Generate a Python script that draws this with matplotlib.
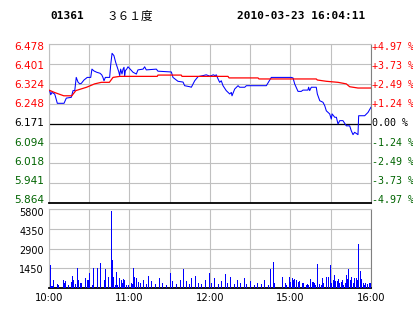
import matplotlib
matplotlib.use("Agg")
import matplotlib.pyplot as plt
from matplotlib.transforms import ScaledTranslation

# Intraday quote 01361, 2010-03-23 (HK session 10:00-12:30, 14:30-16:00)
# x axis = trading minutes since 10:00 (0..240)
PREV_CLOSE = 6.171
PRICE_TICKS = [6.478, 6.401, 6.324, 6.248, 6.171, 6.094, 6.018, 5.941, 5.864]
PCT_LABELS = ["+4.97 %", "+3.73 %", "+2.49 %", "+1.24 %", "0.00 %",
              "-1.24 %", "-2.49 %", "-3.73 %", "-4.97 %"]
VOL_TICKS = [5800, 4350, 2900, 1450]
GRID_MINUTES = [0, 30, 60, 90, 120, 150, 180, 210, 240]
TIME_LABELS = ["10:00", "", "11:00", "", "12:00", "", "15:00", "", "16:00"]

# last price
price_min = [0.5, 1.3, 2.2, 4.2, 4.7, 6.2, 11.2, 12.9, 16.6, 17.9,
             19.2, 20.3, 21.6, 22.9, 24.1, 26.1, 28.5, 31.1, 32.0, 33.5,
             35.5, 38.0, 39.3, 40.2, 41.0, 42.0, 45.2, 46.0, 47.0, 48.4,
             49.7, 50.9, 52.0, 52.7, 53.4, 54.4, 55.2, 55.9, 56.4, 56.9,
             57.9, 58.9, 62.6, 65.1, 66.3, 70.1, 71.3, 72.5, 80.0, 81.2,
             91.2, 92.4, 96.1, 99.9, 101.1, 104.9, 106.1, 108.6, 111.1, 114.8,
             117.2, 119.8, 121.0, 122.5, 123.7, 124.7, 126.0, 127.2, 128.4, 129.7,
             132.1, 134.7, 135.9, 136.4, 138.4, 140.9, 142.1, 145.9, 147.1, 162.0,
             165.7, 180.6, 181.9, 183.1, 185.6, 188.0, 189.3, 193.0, 193.5, 194.3,
             195.5, 199.2, 200.0, 201.8, 204.2, 205.5, 206.7, 209.2, 210.4, 211.0,
             213.0, 214.2, 215.4, 216.7, 219.1, 221.6, 224.1, 225.3, 226.6, 227.8,
             230.3, 230.8, 235.3, 237.8, 240.0]
price = [6.298, 6.282, 6.291, 6.285, 6.277, 6.249, 6.249, 6.269, 6.272, 6.298,
         6.298, 6.349, 6.331, 6.324, 6.326, 6.339, 6.349, 6.349, 6.381, 6.374,
         6.369, 6.365, 6.359, 6.349, 6.336, 6.349, 6.349, 6.398, 6.442, 6.433,
         6.407, 6.388, 6.371, 6.356, 6.381, 6.362, 6.381, 6.388, 6.353, 6.375,
         6.381, 6.390, 6.369, 6.362, 6.378, 6.381, 6.390, 6.378, 6.381, 6.373,
         6.370, 6.349, 6.334, 6.331, 6.317, 6.313, 6.311, 6.336, 6.352, 6.356,
         6.359, 6.354, 6.356, 6.359, 6.356, 6.359, 6.343, 6.330, 6.336, 6.317,
         6.298, 6.285, 6.291, 6.278, 6.304, 6.317, 6.311, 6.311, 6.317, 6.317,
         6.349, 6.349, 6.347, 6.324, 6.295, 6.295, 6.300, 6.300, 6.311, 6.298,
         6.311, 6.311, 6.285, 6.259, 6.253, 6.240, 6.220, 6.208, 6.188, 6.208,
         6.195, 6.195, 6.169, 6.182, 6.182, 6.162, 6.162, 6.143, 6.128, 6.137,
         6.128, 6.201, 6.201, 6.214, 6.234]

# average price
avg_min = [0, 4, 11, 17, 20, 28, 34, 39, 45, 47.7,
           52.7, 80.7, 81.2, 98.6, 99.1, 133.4, 134.2, 155.8, 156.5, 199.2,
           200.0, 206.7, 215.4, 221.6, 224.1, 230.3, 240]
avg = [6.300, 6.291, 6.278, 6.278, 6.298, 6.311, 6.324, 6.330, 6.330, 6.349,
       6.353, 6.353, 6.358, 6.358, 6.353, 6.353, 6.347, 6.347, 6.343, 6.343,
       6.339, 6.334, 6.330, 6.324, 6.313, 6.308, 6.308]

# volume bars
vol_min = [1, 1.5, 2.2, 3.2, 5.7, 6.5, 10.7, 11.4, 12.2, 13.9,
           16.4, 17.1, 17.9, 19.6, 20.6, 21.4, 23.1, 23.9, 26.8, 28.5,
           29.3, 30.0, 31.8, 32.6, 35.5, 38.0, 41.2, 42.0, 44.2, 46.2,
           47.0, 47.7, 49.2, 49.9, 50.9, 52.4, 53.4, 54.2, 55.4, 56.1,
           57.6, 59.1, 61.1, 62.1, 62.8, 63.6, 64.6, 66.1,
           68, 70, 72, 74, 76, 79, 82, 84, 87, 90,
           92, 95, 98, 100, 102, 104, 106, 109, 111, 113,
           116, 119, 121, 123, 126, 128, 131, 133, 135, 138,
           140, 142, 145, 147, 150, 153, 155, 158, 160, 163, 165,
           166.7, 167.7, 173.9, 175.9, 176.6, 178.9, 179.6, 181.1, 182.1, 182.8,
           184.1, 185.4, 186.1, 188.3, 189.1, 191.3, 192.1, 193.3, 194.5, 195.8,
           196.5, 197.3, 198.3, 200.0, 201.2, 202.5, 203.7, 204.4, 206.5, 208.2,
           209.4, 210.4, 211.4, 212.4, 213.4, 214.4, 215.4, 216.4, 217.6, 218.4,
           219.3, 220.4, 221.6, 222.3, 223.1, 224.3, 225.3, 226.3, 227.3, 228.8,
           229.8, 230.5, 231.8, 232.5, 233.8, 234.8, 235.7, 236.8, 238.3, 239.3]
vol = [1690, 150, 150, 590, 290, 220, 590, 390, 540, 220,
       460, 880, 590, 290, 1440, 590, 340, 390, 710, 590,
       590, 1120, 220, 1440, 1490, 1860, 590, 1390, 810, 5650,
       2060, 830, 220, 1200, 220, 710, 590, 340, 640, 590,
       220, 220, 340, 290, 1440, 810, 710, 460,
       400, 600, 300, 900, 500, 300, 700, 400, 250, 1100,
       500, 300, 600, 1400, 500, 300, 700, 900, 400, 300,
       600, 1100, 400, 700, 300, 500, 1000, 400, 800, 300,
       600, 350, 700, 300, 500, 250, 400, 300, 600, 250, 1400,
       1930, 340, 810, 390, 220, 810, 460, 710, 590, 690,
       590, 460, 540, 340, 390, 220, 290, 220, 640, 460,
       440, 390, 220, 1760, 290, 220, 710, 340, 810, 810,
       1690, 340, 590, 950, 510, 540, 640, 390, 460, 590,
       220, 390, 950, 640, 1390, 590, 830, 340, 710, 760,
       590, 3250, 1220, 640, 340, 220, 390, 290, 340, 390]

RED = "#ff0000"
GREEN = "#006400"
GRID = "#c0c0c0"


def label_color(i):
    if PRICE_TICKS[i] > PREV_CLOSE:
        return RED
    if PRICE_TICKS[i] < PREV_CLOSE:
        return GREEN
    return "black"


def offset(dx, dy):
    # shift in pixels (dy positive = down)
    return ScaledTranslation(dx / 100, -dy / 100, fig.dpi_scale_trans)


fig = plt.figure(figsize=(4.14, 3.14), dpi=100)
W, H = 414.0, 314.0
ax = fig.add_axes([49 / W, (H - 203) / H, 322 / W, 159 / H])
axv = fig.add_axes([49 / W, (H - 288) / H, 322 / W, 79 / H])

# price panel
ax.plot(price_min, price, color="#0000ff", lw=0.75, zorder=3)
ax.plot(avg_min, avg, color=RED, lw=0.9, zorder=4)
ax.axhline(PREV_CLOSE, color="black", lw=0.9, zorder=2)
ax.set_xlim(0, 240)
ax.set_ylim(PRICE_TICKS[-1], PRICE_TICKS[0])
ax.set_xticks(GRID_MINUTES)
ax.set_yticks(PRICE_TICKS)
ax.tick_params(length=0, labelleft=False, labelbottom=False)
ax.grid(True, color=GRID, lw=0.8, zorder=1)

# labels sit slightly off the grid lines: 3px below at the top, 3px above at the bottom
n = len(PRICE_TICKS) - 1
ytrans = ax.get_yaxis_transform()
for i, v in enumerate(PRICE_TICKS):
    dy = 3 - 6 * i / n
    ax.text(0, v, f"{v:.3f}", fontsize=7.6, color=label_color(i),
            ha="right", va="center", transform=ytrans + offset(-5, dy))
    ax.text(1, v, PCT_LABELS[i], fontsize=7.2, family="DejaVu Sans Mono",
            color=label_color(i), ha="left", va="center",
            transform=ytrans + offset(1, dy))

# volume panel
axv.vlines(vol_min, 0, vol, color="#0000ff", lw=0.6, antialiaseds=False, zorder=3)
axv.set_xlim(0, 240)
axv.set_ylim(0, VOL_TICKS[0])
axv.set_yticks(VOL_TICKS)
axv.set_xticks(GRID_MINUTES)
axv.set_xticklabels(TIME_LABELS, fontsize=7.2)
axv.tick_params(length=0, pad=3.5, labelleft=False)
axv.grid(True, color=GRID, lw=0.8, zorder=1)
vtrans = axv.get_yaxis_transform()
for i, v in enumerate(VOL_TICKS):
    axv.text(0, v, str(v), fontsize=7.0, ha="right", va="center",
             transform=vtrans + offset(-5, 4 - 2 * i / 3))

for a in (ax, axv):
    a.set_axisbelow(True)
    a.spines["left"].set_color(GRID)
    a.spines["top"].set_color(GRID)
    a.spines["right"].set_color("#808080")
    a.spines["bottom"].set_color("black")
    a.spines["bottom"].set_linewidth(1.3)
    for s in ("left", "top", "right"):
        a.spines[s].set_linewidth(0.8)

# header
fig.text(50 / W, 1 - 16 / H, "01361", family="DejaVu Sans Mono",
         fontweight="bold", fontsize=8, va="center")
fig.text(106 / W, 1 - 16 / H, "３６１度", family=["Noto Sans CJK SC", "DejaVu Sans"],
         fontsize=8.4, va="center")
fig.text(237 / W, 1 - 16 / H, "2010-03-23 16:04:11", family="DejaVu Sans Mono",
         fontweight="bold", fontsize=8, va="center")

fig.savefig("out.png", dpi=100)
